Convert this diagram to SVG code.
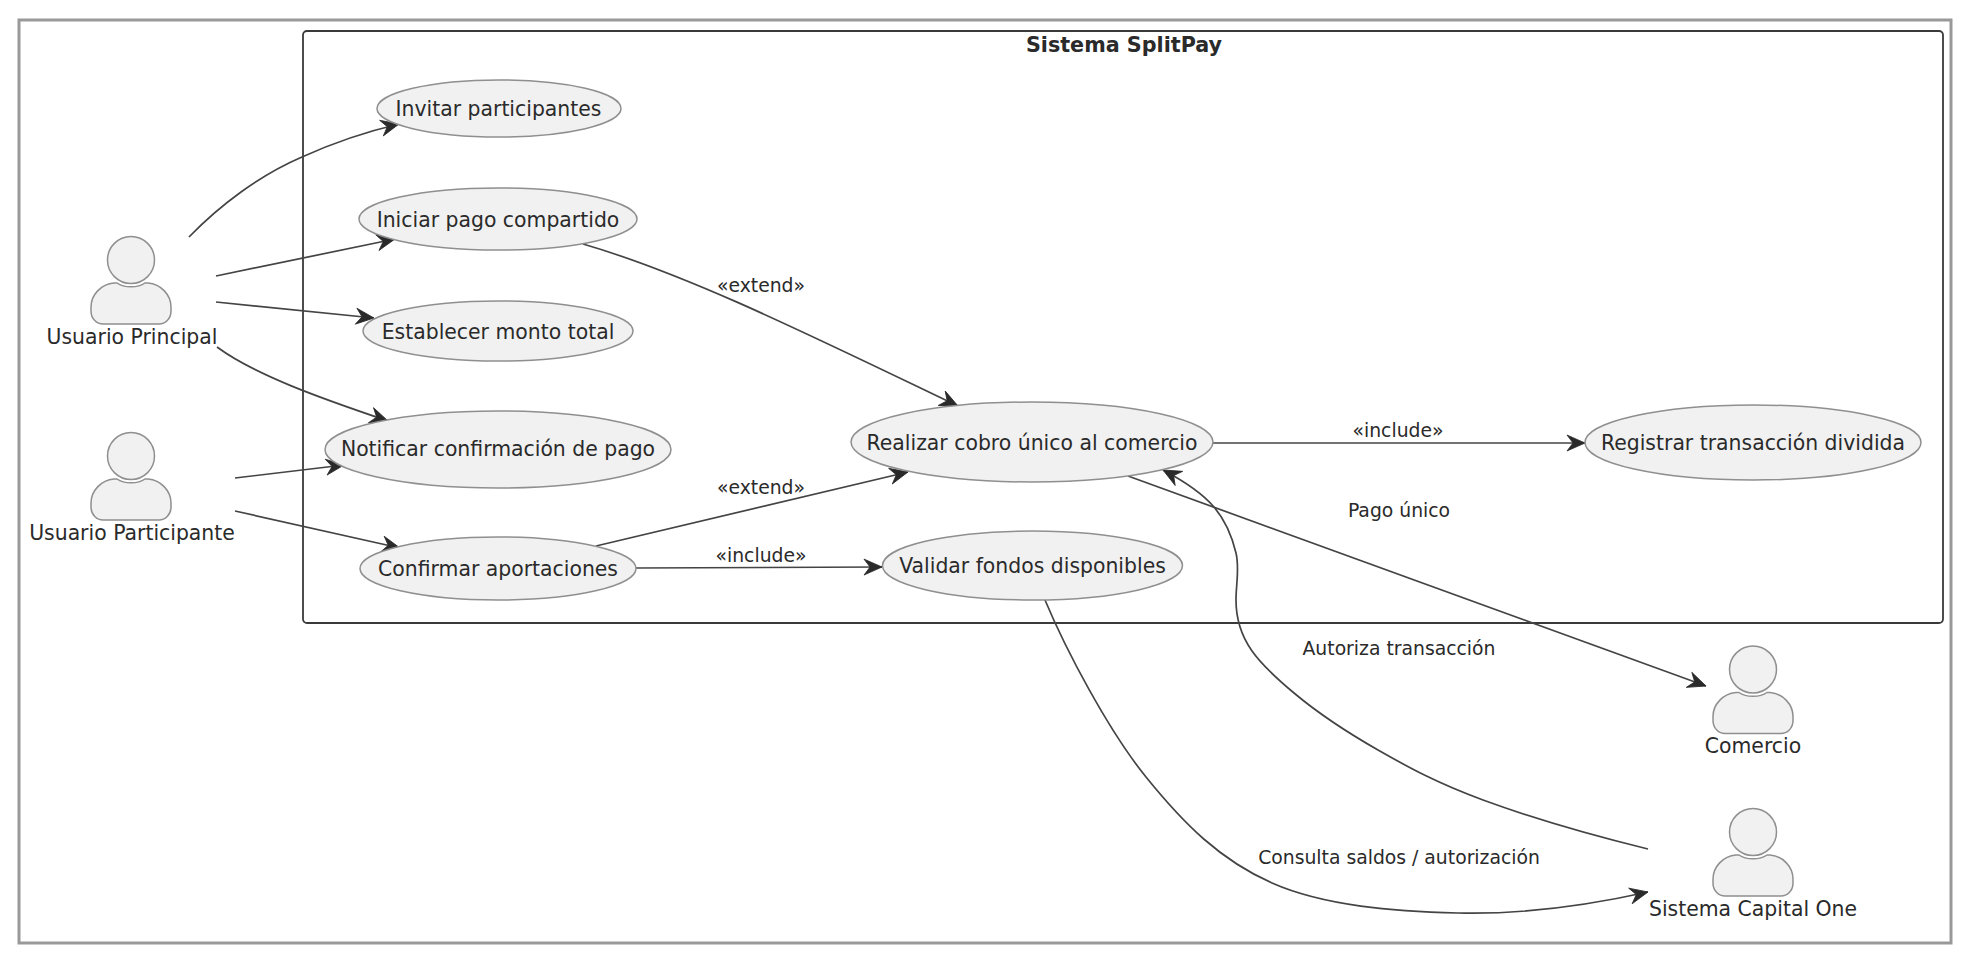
<svg xmlns="http://www.w3.org/2000/svg" width="1962" height="956" viewBox="0 0 1962 956">
<style>
text{font-family:"DejaVu Sans",sans-serif;fill:#2a2a2a;text-anchor:middle}
.u{fill:#f1f1f1;stroke:#8f8f8f;stroke-width:1.5}
.n{font-size:20.4px}
.l{font-size:18.8px}
.c{fill:none;stroke:#444;stroke-width:1.7}
</style>
<defs>
<marker id="a" markerUnits="userSpaceOnUse" markerWidth="24" markerHeight="20" refX="20" refY="9.5" orient="auto">
<path d="M20 9.5L2 1.5L8 9.5L2 17.5Z" fill="#2a2a2a" stroke="#2a2a2a" stroke-width="0.8"/>
</marker>
<g id="actor">
<ellipse class="u" cx="0" cy="0" rx="23.5" ry="23.5"/>
<path class="u" d="M-14 23C-7 28 7 28 14 23L17 23C30 24 40 35 40 47L40 51C40 59 34 64 28 64L-28 64C-34 64 -40 59 -40 51L-40 47C-40 35 -30 24 -17 23Z"/>
</g>
</defs>
<rect width="1962" height="956" fill="#fff"/>
<rect x="19" y="20" width="1932" height="923" fill="#fff" stroke="#999" stroke-width="3"/>
<g id="system">
<rect x="303" y="31" width="1640" height="592" rx="4" fill="#fff" stroke="#3a3a3a" stroke-width="1.8"/>
<text x="1124" y="52" font-size="20.7" font-weight="700">Sistema SplitPay</text>
</g>
<g id="connectors">
<path class="c" marker-end="url(#a)" d="M189 237C220 205 260 175 302 157C335 142 365 132 399 124"/>
<path class="c" marker-end="url(#a)" d="M216 276L395 239"/>
<path class="c" marker-end="url(#a)" d="M216 302L374 318"/>
<path class="c" marker-end="url(#a)" d="M217 347C255 375 320 398 388 421"/>
<path class="c" marker-end="url(#a)" d="M235 478L344 465"/>
<path class="c" marker-end="url(#a)" d="M235 511L400 548"/>
<path class="c" marker-end="url(#a)" d="M583 244C690 275 820 340 958 406"/>
<path class="c" marker-end="url(#a)" d="M596 546L908 472"/>
<path class="c" marker-end="url(#a)" d="M636 568L882 567"/>
<path class="c" marker-end="url(#a)" d="M1213 443L1585 443"/>
<path class="c" marker-end="url(#a)" d="M1128 476L1706 686"/>
<path class="c" marker-end="url(#a)" d="M1648 849C1595 836 1528 816.5 1483 800C1438 783.5 1409.5 768 1378 750C1346.5 732 1319 714 1294 693C1258 663 1236 640 1236 600C1236 584 1239.7 568.5 1236 553C1232.3 537.5 1226 521 1214 507C1202 493 1180 479 1163 470"/>
<path class="c" marker-end="url(#a)" d="M1045 600C1066 650 1108 730 1146 777C1184 824 1220 860 1272 883C1324 906 1395 911.5 1458 913C1521 914.5 1590 905 1648 892"/>
</g>
<g id="labels">
<text class="l" x="761" y="292">«extend»</text>
<text class="l" x="761" y="494">«extend»</text>
<text class="l" x="761" y="562">«include»</text>
<text class="l" x="1398" y="437">«include»</text>
<text class="l" x="1399" y="517">Pago único</text>
<text class="l" x="1399" y="655">Autoriza transacción</text>
<text class="l" x="1399" y="864">Consulta saldos / autorización</text>
</g>
<g id="uc-invitar"><ellipse class="u" cx="499" cy="108.5" rx="122" ry="28.5"/><text class="n" x="498.5" y="115.5">Invitar participantes</text></g>
<g id="uc-iniciar"><ellipse class="u" cx="498" cy="219" rx="139" ry="31"/><text class="n" x="498" y="226.5">Iniciar pago compartido</text></g>
<g id="uc-establecer"><ellipse class="u" cx="498" cy="331" rx="135" ry="30"/><text class="n" x="498" y="338.5">Establecer monto total</text></g>
<g id="uc-notificar"><ellipse class="u" cx="498" cy="449.5" rx="173" ry="38.5"/><text class="n" x="498" y="456">Notificar confirmación de pago</text></g>
<g id="uc-confirmar"><ellipse class="u" cx="498" cy="568.5" rx="138" ry="31.5"/><text class="n" x="498" y="575.5">Confirmar aportaciones</text></g>
<g id="uc-realizar"><ellipse class="u" cx="1032" cy="442" rx="181" ry="40"/><text class="n" x="1032" y="450">Realizar cobro único al comercio</text></g>
<g id="uc-validar"><ellipse class="u" cx="1032.5" cy="565.5" rx="150" ry="34.5"/><text class="n" x="1032.5" y="573">Validar fondos disponibles</text></g>
<g id="uc-registrar"><ellipse class="u" cx="1753" cy="442.5" rx="168" ry="37.5"/><text class="n" x="1753" y="450">Registrar transacción dividida</text></g>
<g id="actor-principal"><use href="#actor" x="131" y="260"/><text class="n" x="132" y="344">Usuario Principal</text></g>
<g id="actor-participante"><use href="#actor" x="131" y="456"/><text class="n" x="132" y="540">Usuario Participante</text></g>
<g id="actor-comercio"><use href="#actor" x="1753" y="669.5"/><text class="n" x="1753" y="753">Comercio</text></g>
<g id="actor-capital"><use href="#actor" x="1753" y="832"/><text class="n" x="1753" y="916">Sistema Capital One</text></g>
</svg>
